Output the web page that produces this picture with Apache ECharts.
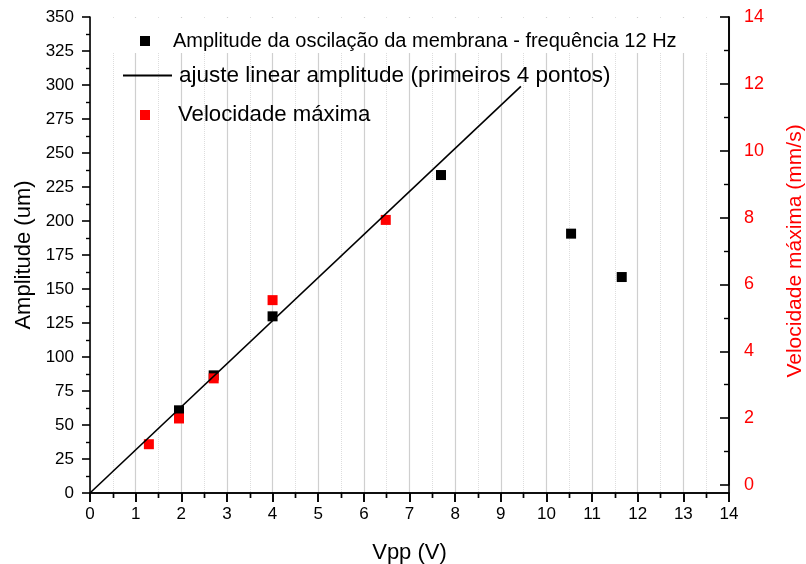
<!DOCTYPE html>
<html>
<head>
<meta charset="utf-8">
<script src="https://cdn.jsdelivr.net/npm/echarts@6/dist/echarts.min.js"></script>
<style>
  html, body { margin: 0; padding: 0; background: #fff; }
  #chart { width: 806px; height: 564px; }
</style>
</head>
<body>
<div id="chart"></div>
<script>
const FONT = 'Liberation Sans, Arial, sans-serif'

// amplitude (black squares)
const voltsAmp = [1.95, 2.71, 4.0, 7.69, 10.54, 11.65]
const amplitude = [60.8, 86.5, 129.9, 233.8, 190.7, 158.8]

// linear fit of the first 4 points
const fitX = [0, 9.44]
const fitY = [0, 299]

// max velocity (red squares), right axis
const voltsVel = [1.29, 1.95, 2.71, 4.0, 6.48]
const velocidade = [1.22, 1.99, 3.19, 5.53, 7.93]

const nameAmp = 'Amplitude da oscilação da membrana - frequência 12 Hz'
const nameFit = 'ajuste linear amplitude (primeiros 4 pontos)'
const nameVel = 'Velocidade máxima'

const zip = (xs, ys) => xs.map((x, i) => [x, ys[i]])

const chart = echarts.init(document.getElementById('chart'))

const axisBlack = { lineStyle: { color: '#000', width: 1.6 } }

chart.setOption({
    animation: false,
    textStyle: { fontFamily: FONT },
    grid: [
        { left: 90, right: 77, top: 17, bottom: 71, outerBoundsMode: 'none' },
        { left: 90, right: 77, top: 17, bottom: 79, outerBoundsMode: 'none' }
    ],
    // white band at the top: the grid lines stop below the first legend row
    graphic: [{
        type: 'rect',
        z: 1,
        shape: { x: 91, y: 18, width: 637, height: 35 },
        style: { fill: '#fff' }
    }],
    legend: [
        {
            data: [nameAmp],
            left: 140, top: 31, padding: 0,
            itemWidth: 10, itemHeight: 10,
            textStyle: { fontSize: 20, color: '#000', padding: [0, 0, 0, 18] }
        },
        {
            data: [{ name: nameFit, icon: 'rect' }],
            left: 123, top: 64, padding: 0,
            itemWidth: 49, itemHeight: 2,
            textStyle: { fontSize: 22.5, color: '#000', padding: [0, 0, 0, 2] }
        },
        {
            data: [nameVel],
            left: 140, top: 104, padding: 0,
            itemWidth: 10, itemHeight: 10,
            textStyle: { fontSize: 22.2, color: '#000', padding: [0, 0, 0, 23] }
        }
    ],
    xAxis: [
        {
            gridIndex: 0,
            type: 'value',
            min: 0, max: 14, interval: 1,
            name: 'Vpp (V)',
            nameLocation: 'middle',
            nameGap: 49,
            nameTextStyle: { fontSize: 22, color: '#000' },
            axisLine: axisBlack,
            axisTick: { length: 9, lineStyle: { color: '#000', width: 1.6 } },
            minorTick: { show: true, splitNumber: 2, length: 5, lineStyle: { color: '#000', width: 1.4 } },
            axisLabel: { fontSize: 17, color: '#000', margin: 13 },
            splitLine: { show: true, lineStyle: { color: '#cfcfcf', width: 1.2 } },
            minorSplitLine: { show: true, lineStyle: { color: '#dddddd', type: 'dotted', width: 1 } }
        },
        {
            // top frame with inward ticks
            gridIndex: 0,
            type: 'value',
            position: 'top',
            z: 3,
            min: 0, max: 14, interval: 1,
            axisLine: axisBlack,
            axisTick: { inside: true, length: 9, lineStyle: { color: '#000', width: 1.6 } },
            minorTick: { show: true, splitNumber: 2, length: 5, lineStyle: { color: '#000', width: 1.4 } },
            axisLabel: { show: false },
            splitLine: { show: false }
        },
        {
            gridIndex: 1,
            type: 'value',
            min: 0, max: 14,
            show: false
        }
    ],
    yAxis: [
        {
            gridIndex: 0,
            type: 'value',
            position: 'left',
            min: 0, max: 350, interval: 25,
            name: 'Amplitude (um)',
            nameLocation: 'middle',
            nameGap: 54,
            nameTextStyle: { fontSize: 22, color: '#000' },
            axisLine: axisBlack,
            axisTick: { length: 8, lineStyle: { color: '#000', width: 1.6 } },
            minorTick: { show: true, splitNumber: 2, length: 4, lineStyle: { color: '#000', width: 1.4 } },
            axisLabel: { fontSize: 17, color: '#000', margin: 16 },
            splitLine: { show: false }
        },
        {
            // right frame line of the main plot
            gridIndex: 0,
            type: 'value',
            position: 'right',
            z: 3,
            min: 0, max: 350,
            axisLine: { show: true, onZero: false, lineStyle: { color: '#000', width: 1.6 } },
            axisTick: { show: false },
            axisLabel: { show: false },
            splitLine: { show: false }
        },
        {
            gridIndex: 1,
            type: 'value',
            position: 'right',
            z: 3,
            min: 0, max: 14, interval: 2,
            name: 'Velocidade máxima (mm/s)',
            nameLocation: 'middle',
            nameGap: 56,
            nameTextStyle: { fontSize: 21, color: '#ff0000' },
            axisLine: { show: true, onZero: false, lineStyle: { color: '#000', width: 1.6 } },
            axisTick: { show: true, inside: true, length: 9, lineStyle: { color: '#000', width: 1.6 } },
            minorTick: { show: true, splitNumber: 2, length: 5, lineStyle: { color: '#000', width: 1.4 } },
            axisLabel: { fontSize: 18, color: '#ff0000', margin: 15 },
            splitLine: { show: false }
        }
    ],
    series: [
        {
            name: nameAmp,
            type: 'scatter',
            xAxisIndex: 0, yAxisIndex: 0,
            symbol: 'rect',
            symbolSize: 10,
            itemStyle: { color: '#000', opacity: 1 },
            data: zip(voltsAmp, amplitude)
        },
        {
            name: nameFit,
            type: 'line',
            xAxisIndex: 0, yAxisIndex: 0,
            symbol: 'none',
            lineStyle: { color: '#000', width: 1.6 },
            itemStyle: { color: '#000' },
            data: zip(fitX, fitY)
        },
        {
            name: nameVel,
            type: 'scatter',
            xAxisIndex: 2, yAxisIndex: 2,
            symbol: 'rect',
            symbolSize: 10,
            itemStyle: { color: '#ff0000', opacity: 1 },
            data: zip(voltsVel, velocidade)
        }
    ]
})

window.addEventListener('resize', () => {
    chart.resize()
})
</script>
</body>
</html>
